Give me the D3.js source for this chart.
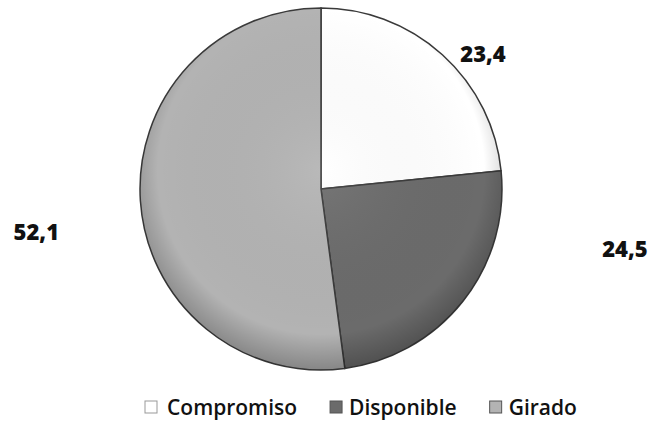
<!DOCTYPE html>
<html>
<head>
<meta charset="utf-8">
<script src="https://cdn.jsdelivr.net/npm/d3@7"></script>
<style>
    body { margin: 0; background: #fff; }
    svg { display: block; }
</style>
</head>
<body>
<svg id="chart" width="652" height="424"></svg>
<script>
// Data
const categories = ['Compromiso', 'Disponible', 'Girado']
const values = [23.4, 24.5, 52.1]
const valueLabels = ['23,4', '24,5', '52,1']

// Styles / layout
const colors = ['#ffffff', '#6b6b6b', '#b3b3b3']
const labelRadius = [1.17, 1.71, 1.59]      // relative to pie radius
const labelShift = [7.8, -27.4, -4.6]        // degrees from slice middle

let svg = d3.select('#chart'),
    cx = 321,
    cy = 189,
    radius = 181

let pie = d3.pie().sort(null).value(d => d)
let arcs = pie(values)
let arc = d3.arc().innerRadius(0).outerRadius(radius)

let defs = svg.append('defs')
let rg = defs.append('radialGradient').attr('id', 'shade')
    .attr('cx', '50%').attr('cy', '45%').attr('r', '55%')
rg.append('stop').attr('offset', '0%').attr('stop-color', '#fff').attr('stop-opacity', 0.08)
rg.append('stop').attr('offset', '82%').attr('stop-color', '#000').attr('stop-opacity', 0)
rg.append('stop').attr('offset', '100%').attr('stop-color', '#000').attr('stop-opacity', 0.25)

let g = svg.append('g').attr('transform', `translate(${cx},${cy})`)

g.selectAll('path.slice')
    .data(arcs)
    .enter()
    .append('path')
    .attr('class', 'slice')
    .attr('d', arc)
    .attr('fill', (d, i) => colors[i])
    .attr('stroke', '#3a3a3a')
    .attr('stroke-width', 1.5)

g.append('circle')
    .attr('r', radius)
    .attr('fill', 'url(#shade)')
    .attr('pointer-events', 'none')

// value labels
function labelPos(d, i) {
    let a = (d.startAngle + d.endAngle) / 2 + labelShift[i] * Math.PI / 180
    return [Math.sin(a) * radius * labelRadius[i], -Math.cos(a) * radius * labelRadius[i]]
}

g.selectAll('text.val')
    .data(arcs)
    .enter()
    .append('text')
    .attr('class', 'val')
    .attr('x', (d, i) => labelPos(d, i)[0])
    .attr('y', (d, i) => labelPos(d, i)[1])
    .attr('text-anchor', 'middle')
    .attr('dominant-baseline', 'central')
    .style('font-family', 'Open Sans, sans-serif')
    .style('font-weight', 800)
    .style('font-size', '22px')
    .attr('fill', '#111')
    .text((d, i) => valueLabels[i])

// legend, laid out from text widths
let legend = svg.append('g').attr('transform', 'translate(0,407)')
let lx = 145

categories.forEach((c, i) => {
    let item = legend.append('g').attr('transform', `translate(${lx},0)`)
    item.append('rect')
        .attr('x', 0)
        .attr('y', -6)
        .attr('width', 12)
        .attr('height', 12)
        .attr('fill', colors[i])
        .attr('stroke', i == 0 ? '#999' : '#555')
        .attr('stroke-width', 1)
    let t = item.append('text')
        .attr('x', i == 0 ? 22 : 19)
        .attr('y', 0)
        .attr('dominant-baseline', 'central')
        .style('font-family', 'Open Sans, sans-serif')
        .style('font-weight', 600)
        .style('font-size', '21px')
        .attr('fill', '#111')
        .text(c)
    lx += (i == 0 ? 22 : 19) + t.node().getComputedTextLength() + 33
})
</script>
</body>
</html>
